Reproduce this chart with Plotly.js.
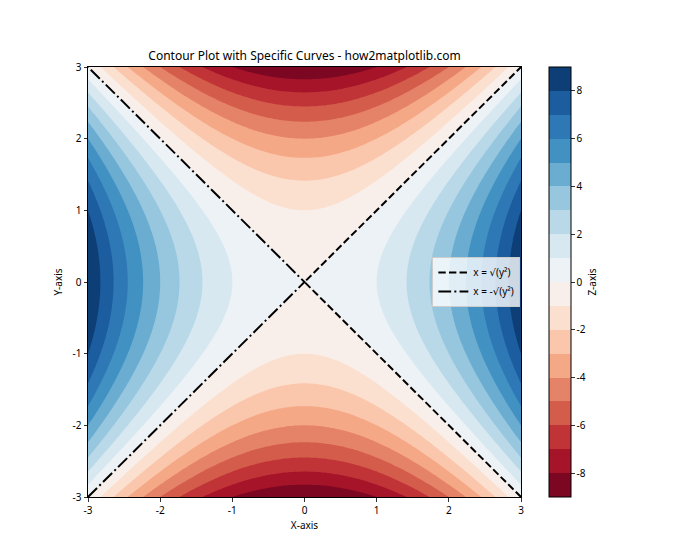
<!DOCTYPE html>
<html>
<head>
<meta charset="utf-8">
<script src="https://cdn.plot.ly/plotly-3.0.1.min.js"></script>
<style>html,body{margin:0;padding:0;background:#fff;}#chart{width:700px;height:560px;}</style>
</head>
<body>
<div id="chart"></div>
<script>
// Grid axes of the surface z = x^2 - y^2 (the plotted function)
var gridX = [];
var gridY = [];
var N = 201;
for (var i = 0; i < N; i++) { gridX.push(-3 + 6 * i / (N - 1)); gridY.push(-3 + 6 * i / (N - 1)); }
var gridZ = gridY.map(function (y) { return gridX.map(function (x) { return x * x - y * y; }); });

// Contour levels
var levelStart = -9, levelEnd = 9, levelStep = 1;

// Curves
var curveY = [-3, 0, 3];
var curvePosX = [3, 0, 3];     // x = sqrt(y^2)
var curveNegX = [-3, 0, -3];   // x = -sqrt(y^2)
var curveNames = ['x = √(y²)', 'x = -√(y²)'];

// Colorbar ticks
var cbTicks = [-8, -6, -4, -2, 0, 2, 4, 6, 8];
var axisTicks = [-3, -2, -1, 0, 1, 2, 3];

// RdBu band colours (low -> high)
var bandColors = ['rgb(124,7,34)','rgb(166,20,41)','rgb(192,52,56)','rgb(212,92,75)','rgb(229,131,104)',
  'rgb(245,168,134)','rgb(250,198,172)','rgb(252,224,207)','rgb(249,239,234)','rgb(236,242,245)',
  'rgb(215,232,241)','rgb(185,217,233)','rgb(150,199,223)','rgb(107,172,209)','rgb(65,145,194)',
  'rgb(46,120,181)','rgb(28,93,160)','rgb(13,63,118)'];

var cs = [];
var nb = bandColors.length;
for (var k = 0; k < nb; k++) {
  var a = k === 0 ? 0 : (k + 0.5) / 19;
  var b = k === nb - 1 ? 1 : (k + 1.5) / 19;
  cs.push([a, bandColors[k]]);
  cs.push([b, bandColors[k]]);
}

var font = 'Noto Sans, DejaVu Sans, sans-serif';

var traces = [
  {
    type: 'contour', x: gridX, y: gridY, z: gridZ,
    colorscale: cs, zmin: levelStart, zmax: levelEnd,
    autocontour: false,
    contours: { start: levelStart, end: levelEnd, size: levelStep, coloring: 'fill', showlines: false },
    line: { width: 0 },
    showlegend: false, hoverinfo: 'skip',
    colorbar: {
      x: (549 - 88) / 433, xanchor: 'left', xpad: 0, ypad: 0,
      y: 0.5, yanchor: 'middle', len: 1, lenmode: 'fraction',
      thickness: 22, thicknessmode: 'pixels',
      outlinewidth: 1, outlinecolor: '#000',
      tickmode: 'array', tickvals: cbTicks, ticktext: cbTicks.map(String),
      ticks: 'outside', ticklen: 3.5, tickwidth: 0.8, tickcolor: '#000',
      tickfont: { family: font, size: 10, color: '#000' },
      title: { text: 'Z-axis', side: 'right', font: { family: font, size: 10, color: '#000' } }
    }
  },
  {
    type: 'scatter', mode: 'lines', x: curvePosX, y: curveY, name: curveNames[0],
    line: { color: '#000', width: 2, dash: '7.4px,3.2px' }, hoverinfo: 'skip'
  },
  {
    type: 'scatter', mode: 'lines', x: curveNegX, y: curveY, name: curveNames[1],
    line: { color: '#000', width: 2, dash: '12.8px,3.2px,2px,3.2px' }, hoverinfo: 'skip'
  }
];

var axisCommon = {
  range: [-3, 3], tickmode: 'array', tickvals: axisTicks, ticktext: axisTicks.map(String),
  ticks: 'outside', ticklen: 3.5, tickwidth: 0.8, tickcolor: '#000',
  showline: true, linecolor: '#000', linewidth: 1, mirror: true,
  showgrid: false, zeroline: false,
  tickfont: { family: font, size: 10, color: '#000' }
};

var layout = {
  width: 700, height: 560,
  margin: { l: 88, r: 179, t: 67, b: 63 },
  paper_bgcolor: '#fff', plot_bgcolor: '#fff',
  title: { text: 'Contour Plot with Specific Curves - how2matplotlib.com', x: 0.5, xref: 'paper', xanchor: 'center', y: 1 - 56 / 560, yanchor: 'middle', font: { family: font, size: 12, color: '#000' } },
  xaxis: Object.assign({}, axisCommon, { title: { text: 'X-axis', font: { family: font, size: 10, color: '#000' }, standoff: 6 } }),
  yaxis: Object.assign({}, axisCommon, { title: { text: 'Y-axis', font: { family: font, size: 10, color: '#000' }, standoff: 8 } }),
  showlegend: true,
  legend: {
    x: 0.9985, xanchor: 'right', y: 0.5, yanchor: 'middle',
    bgcolor: 'rgba(255,255,255,0.8)', bordercolor: '#ccc', borderwidth: 1,
    itemwidth: 30,
    font: { family: font, size: 10, color: '#000' }, tracegroupgap: 0
  }
};

Plotly.newPlot('chart', traces, layout, { staticPlot: true, displayModeBar: false });
</script>
</body>
</html>
